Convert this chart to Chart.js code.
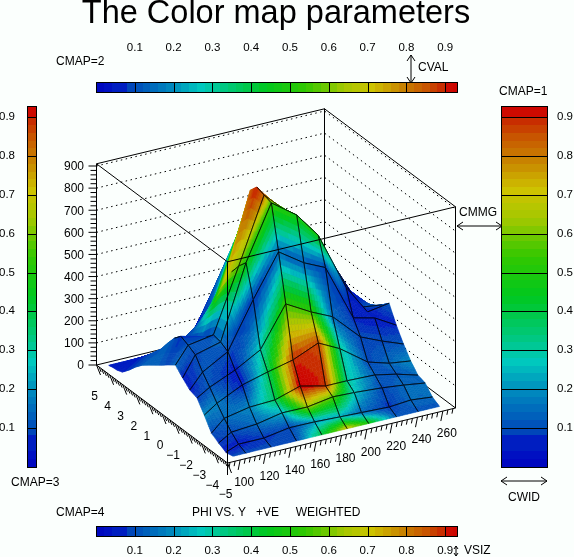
<!DOCTYPE html>
<html>
<head>
<meta charset="utf-8">
<title>The Color map parameters</title>
<script src="https://cdn.jsdelivr.net/npm/chart.js@4"></script>
<style>
html, body { margin: 0; padding: 0; background: #fbfffd; overflow: hidden; }
canvas { display: block; }
</style>
</head>
<body>
<canvas id="chart" width="574" height="557"></canvas>
<script>
// DATA
const xNodes = [97, 107, 127, 147, 167, 187, 204, 226, 243, 260];
const yNodes = [-4.75, -4.2, -3.65, -3.1, -2.55, -2.0, -1.45, -0.9, -0.35, 0.2, 0.7, 1.2, 1.7, 2.2, 2.7, 3.2, 3.7, 4.1, 4.45, 4.75];
// heights, one row per xNode
const surfaceZ = [
  [10, 3, 21, 41, 98, 151, 163, 193, 227, 203, 180, 158, 136, 113, 83, 47, 16, 7, 5, 0],
  [10, 26, 56, 94, 138, 186, 230, 284, 303, 319, 288, 244, 195, 159, 123, 87, 51, 29, 9, 0],
  [10, 26, 65, 117, 193, 236, 295, 314, 322, 288, 252, 231, 209, 177, 128, 87, 61, 42, 23, 0],
  [10, 45, 88, 122, 224, 300, 502, 645, 606, 555, 496, 429, 339, 258, 204, 137, 70, 29, 5, 0],
  [10, 44, 87, 157, 251, 480, 691, 888, 899, 911, 875, 740, 628, 538, 448, 358, 258, 168, 99, 27],
  [10, 39, 105, 130, 300, 416, 614, 806, 790, 770, 730, 630, 520, 410, 320, 230, 150, 84, 41, 0],
  [10, 35, 101, 130, 251, 371, 569, 691, 682, 640, 590, 520, 440, 350, 270, 200, 130, 74, 31, 0],
  [10, 30, 92, 126, 160, 249, 311, 425, 465, 370, 290, 220, 160, 110, 70, 40, 15, 0, 0, 0],
  [10, 38, 81, 106, 131, 207, 287, 290, 287, 317, 327, 341, 280, 230, 180, 130, 80, 54, 31, 0],
  [10, 28, 67, 78, 118, 170, 231, 306, 274, 236, 231, 200, 205, 180, 150, 110, 70, 44, 21, 0]
];
// colour map value at each surface node
const surfaceC = [
  [.10, .06, .08, .10, .20, .08, .05, .06, .15, .10, .12, .15, .15, .13, .10, .08, .06, .05, .05, .05],
  [.10, .05, .10, .15, .18, .12, .12, .10, .12, .08, .12, .15, .12, .12, .10, .08, .06, .05, .05, .05],
  [.10, .08, .15, .20, .05, .05, .10, .15, .12, .08, .10, .10, .10, .10, .08, .06, .05, .05, .05, .05],
  [.10, .10, .25, .38, .38, .30, .08, .50, .60, .65, .72, .50, .20, .10, .08, .06, .05, .05, .05, .05],
  [.42, .22, .65, .96, .90, .55, .15, .55, .85, .93, .85, .35, .40, .25, .15, .08, .05, .05, .05, .05],
  [.72, .25, .58, .90, .88, .55, .13, .50, .50, .50, .40, .30, .20, .10, .08, .06, .05, .05, .05, .05],
  [.50, .15, .28, .32, .32, .15, .10, .50, .30, .20, .15, .10, .08, .06, .05, .05, .05, .05, .05, .05],
  [.12, .08, .10, .13, .10, .10, .06, .05, .05, .05, .05, .05, .05, .05, .05, .05, .05, .05, .05, .05],
  [.12, .15, .15, .12, .15, .10, .05, .05, .10, .05, .05, .05, .05, .05, .05, .05, .05, .05, .05, .05],
  [.12, .15, .15, .15, .20, .12, .06, .12, .15, .12, .05, .05, .05, .05, .05, .05, .05, .05, .05, .05]
];
// how far back each column of the mesh is drawn
const meshColumnEnd = [0, 10, 10, 9, 9, 7, 7, 8, 6, 0];
const meshRowEnd = 8;

const zTicks = [0, 100, 200, 300, 400, 500, 600, 700, 800, 900];
const xTicks = [100, 120, 140, 160, 180, 200, 220, 240, 260];
const yTicks = [-5, -4, -3, -2, -1, 0, 1, 2, 3, 4, 5];
const cmapTicks = [0.1, 0.2, 0.3, 0.4, 0.5, 0.6, 0.7, 0.8, 0.9];

const cmapStops = [0, .05, .10, .20, .28, .35, .45, .55, .65, .72, .80, .86, .90, .92, .96];
const cmapColors = [
  [0, 0, 190], [0, 20, 195], [0, 70, 185], [0, 135, 190], [0, 200, 190], [0, 200, 120], [0, 200, 30],
  [50, 200, 0], [165, 200, 0], [205, 195, 0], [200, 130, 0], [200, 85, 0], [200, 45, 0], [205, 10, 0], [205, 0, 0]
];

// box limits
const X0 = 90, X1 = 270, Y0 = -5, Y1 = 5, ZTOP = 910;

// where the box sits on the page
function project(x, y, z) {
  return {
    x: 227.5 + (x - X0) * 228 / 180 + (y - Y0) * -13.1,
    y: 463 - (x - X0) * 55 / 180 + (y - Y0) * -9.8 - z * 0.2211
  };
}

function polyline(pts) {
  return pts.map(p => project(p[0], p[1], p[2]));
}

function joined(list) {
  let out = [];
  list.forEach(l => { out = out.concat(l); out.push({ x: null, y: null }); });
  return out;
}

function cmapColor(v) {
  const q = Math.min(0.96, Math.max(0, Math.round(v * 50) / 50));
  let i = 0;
  while (i < cmapStops.length - 2 && q > cmapStops[i + 1]) i++;
  const t = (q - cmapStops[i]) / (cmapStops[i + 1] - cmapStops[i]);
  const a = cmapColors[i], b = cmapColors[i + 1];
  return `rgb(${Math.round(a[0] + (b[0] - a[0]) * t)},${Math.round(a[1] + (b[1] - a[1]) * t)},${Math.round(a[2] + (b[2] - a[2]) * t)})`;
}

// dotted lines on the two back walls
const wallLines = zTicks.slice(1).map(z => polyline([[X0, Y1, z], [X1, Y1, z], [X1, Y0, z]]));

const backEdges = [
  polyline([[X0, Y1, 0], [X0, Y1, ZTOP], [X1, Y1, ZTOP], [X1, Y0, ZTOP], [X1, Y0, 0]]),
  polyline([[X1, Y1, ZTOP], [X1, Y1, 0]]),
  polyline([[X0, Y1, 0], [X1, Y1, 0], [X1, Y0, 0]])
];

const frontEdges = [
  polyline([[X0, Y1, ZTOP], [X0, Y0, ZTOP], [X1, Y0, ZTOP]]),
  polyline([[X0, Y0, ZTOP], [X0, Y0, 0]]).concat([{ x: project(X0, Y0, 0).x, y: project(X0, Y0, 0).y + 12 }]),
  polyline([[X0, Y1, 0], [X0, Y0, 0], [X1, Y0, 0]])
];

function buildTicks() {
  const out = [];
  for (let z = 0; z <= 900; z += 20) {
    const p = project(X0, Y1, z);
    out.push([p, { x: p.x - (z % 100 === 0 ? 8 : 6), y: p.y }]);
  }
  for (let x = 92; x <= 268; x += 4) {
    const p = project(x, Y0, 0);
    const major = x % 20 === 0;
    out.push([p, { x: p.x - (major ? 2 : 1), y: p.y + (major ? 10 : 5) }]);
  }
  for (let i = 0; i <= 50; i++) {
    const y = Y0 + i * 0.2;
    const p = project(X0, y, 0);
    const major = i % 5 === 0;
    out.push([p, { x: p.x + (major ? 4 : 2), y: p.y + (major ? 10 : 5) }]);
  }
  return out;
}

const lineDataset = (data, order, extra) => Object.assign({
  data, order, showLine: true, pointRadius: 0, borderColor: '#000', borderWidth: 1, tension: 0, spanGaps: false
}, extra || {});

const BACK_INDEX = 1;

const surfacePlugin = {
  id: 'surface',
  afterDatasetDraw(chart, args) {
    if (args.index !== BACK_INDEX) return;
    const ctx = chart.ctx, sx = chart.scales.x, sy = chart.scales.y;
    const px = (a, j) => {
      const p = project(xNodes[a], yNodes[j], surfaceZ[a][j]);
      return [sx.getPixelForValue(p.x), sy.getPixelForValue(p.y)];
    };
    const N = 8;
    const seg = (p, q) => { ctx.beginPath(); ctx.moveTo(p[0], p[1]); ctx.lineTo(q[0], q[1]); ctx.stroke(); };
    ctx.save();
    // far corner first, so that nearer cells cover it
    for (let a = xNodes.length - 2; a >= 0; a--) {
      for (let j = yNodes.length - 2; j >= 0; j--) {
        const p00 = px(a, j), p10 = px(a + 1, j), p01 = px(a, j + 1), p11 = px(a + 1, j + 1);
        const c00 = surfaceC[a][j], c10 = surfaceC[a + 1][j], c01 = surfaceC[a][j + 1], c11 = surfaceC[a + 1][j + 1];
        const lerp = (u, v) => [
          p00[0] * (1 - u) * (1 - v) + p10[0] * u * (1 - v) + p01[0] * (1 - u) * v + p11[0] * u * v,
          p00[1] * (1 - u) * (1 - v) + p10[1] * u * (1 - v) + p01[1] * (1 - u) * v + p11[1] * u * v
        ];
        ctx.lineWidth = 0.6;
        for (let m = N - 1; m >= 0; m--) {
          for (let n = N - 1; n >= 0; n--) {
            const u = m / N, v = n / N, d = 1 / N;
            const cu = u + d / 2, cv = v + d / 2;
            const c = c00 * (1 - cu) * (1 - cv) + c10 * cu * (1 - cv) + c01 * (1 - cu) * cv + c11 * cu * cv;
            const col = cmapColor(c);
            const q = [lerp(u, v), lerp(u + d, v), lerp(u + d, v + d), lerp(u, v + d)];
            ctx.beginPath();
            ctx.moveTo(q[0][0], q[0][1]);
            for (let k = 1; k < 4; k++) ctx.lineTo(q[k][0], q[k][1]);
            ctx.closePath();
            ctx.fillStyle = col;
            ctx.strokeStyle = col;
            ctx.fill();
            ctx.stroke();
          }
        }
        // mesh on the edges of this cell
        ctx.strokeStyle = '#000';
        ctx.lineWidth = 0.8;
        if (j >= 1 && j <= meshRowEnd) seg(p00, p10);
        if (j + 1 <= meshRowEnd) seg(p01, p11);
        if (a >= 1 && j < meshColumnEnd[a]) seg(p00, p01);
        if (j < meshColumnEnd[a + 1]) seg(p10, p11);
      }
    }
    ctx.restore();
  }
};

// colour bars and all the text
const annotationPlugin = {
  id: 'annotations',
  afterDatasetsDraw(chart) {
    const ctx = chart.ctx, sx = chart.scales.x, sy = chart.scales.y;
    const X = v => sx.getPixelForValue(v), Y = v => sy.getPixelForValue(v);
    const CMAP_TOP = 0.93, PER_UNIT = 388, BANDS = 47;

    function hbar(left, top, h) {
      const at = v => Math.round(X(left + v * PER_UNIT));
      for (let b = 0; b < BANDS; b++) {
        const v = b * 0.02, e = Math.min(v + 0.02, CMAP_TOP);
        ctx.fillStyle = cmapColor(v + 0.01);
        ctx.fillRect(at(v), Y(top), at(e) - at(v), h);
      }
      ctx.strokeStyle = '#000'; ctx.lineWidth = 1;
      ctx.strokeRect(at(0) + .5, Y(top) + .5, at(CMAP_TOP) - at(0), h);
      cmapTicks.forEach(v => {
        ctx.beginPath(); ctx.moveTo(at(v) + .5, Y(top)); ctx.lineTo(at(v) + .5, Y(top) + h); ctx.stroke();
      });
    }
    function vbar(left, w, bottom) {
      const at = v => Math.round(Y(bottom - v * PER_UNIT));
      for (let b = 0; b < BANDS; b++) {
        const v = b * 0.02, e = Math.min(v + 0.02, CMAP_TOP);
        ctx.fillStyle = cmapColor(v + 0.01);
        ctx.fillRect(X(left), at(e), w, at(v) - at(e));
      }
      ctx.strokeStyle = '#000'; ctx.lineWidth = 1;
      ctx.strokeRect(X(left) + .5, at(CMAP_TOP) + .5, w, at(0) - at(CMAP_TOP));
      cmapTicks.forEach(v => {
        ctx.beginPath(); ctx.moveTo(X(left), at(v) + .5); ctx.lineTo(X(left) + w, at(v) + .5); ctx.stroke();
      });
    }
    function arrow(x1, y1, x2, y2, L, W) {
      const dx = x2 - x1, dy = y2 - y1, len = Math.hypot(dx, dy), ux = dx / len, uy = dy / len;
      ctx.strokeStyle = '#000'; ctx.lineWidth = 1;
      ctx.beginPath();
      ctx.moveTo(X(x1), Y(y1)); ctx.lineTo(X(x2), Y(y2));
      [[x1, y1, 1], [x2, y2, -1]].forEach(e => {
        ctx.moveTo(X(e[0] + e[2] * ux * L - uy * W), Y(e[1] + e[2] * uy * L + ux * W));
        ctx.lineTo(X(e[0]), Y(e[1]));
        ctx.lineTo(X(e[0] + e[2] * ux * L + uy * W), Y(e[1] + e[2] * uy * L - ux * W));
      });
      ctx.stroke();
    }
    function text(s, x, y, align, size) {
      ctx.font = (size || 12) + 'px "Liberation Sans", Arial, sans-serif';
      ctx.textAlign = align || 'left';
      ctx.textBaseline = 'middle';
      ctx.fillStyle = '#000';
      ctx.fillText(s, X(x), Y(y));
    }

    hbar(96, 82, 10);
    hbar(96, 526, 10);
    vbar(27, 9, 466.5);
    vbar(501, 46, 466.5);

    cmapTicks.forEach(v => {
      const lx = 96 + v * PER_UNIT;
      text(v.toFixed(1), lx, 47.5, 'center', 11.5);
      text(v.toFixed(1), lx, 551, 'center', 11.5);
      const ly = 466.5 - v * PER_UNIT;
      text(v.toFixed(1), 15, ly, 'right', 11.5);
      text(v.toFixed(1), 557, ly, 'left', 11.5);
    });

    zTicks.forEach(z => {
      const p = project(X0, Y1, z);
      text(String(z), 84, p.y + 1, 'right', 12);
    });
    xTicks.forEach(x => {
      const p = project(x, Y0, 0);
      text(String(x), p.x + 4, p.y + 23, 'center', 12);
    });
    yTicks.forEach(y => {
      const p = project(X0, y, 0);
      text(String(y).replace('-', '\u2212'), p.x - 2, p.y + 32, 'center', 12);
    });

    text('The Color map parameters', 276, 14, 'center', 32.5);
    text('CMAP=2', 56, 62, 'left', 12);
    text('CMAP=1', 499, 92, 'left', 12);
    text('CMAP=3', 11, 483, 'left', 12);
    text('CMAP=4', 56, 513, 'left', 12);
    text('PHI VS. Y   +VE     WEIGHTED', 192, 513, 'left', 12);
    text('CVAL', 418, 68, 'left', 12);
    text('CMMG', 459, 213, 'left', 12);
    text('CWID', 524, 498, 'center', 12);
    text('VSIZ', 464, 551, 'left', 12);

    arrow(411, 55, 411, 83, 6, 4);
    arrow(457, 226, 502, 226, 6, 4);
    arrow(501, 481, 547, 481, 6, 4);
    arrow(456, 546, 456, 556, 3, 2);
  }
};

new Chart(document.getElementById('chart').getContext('2d'), {
  type: 'scatter',
  data: {
    datasets: [
      lineDataset(joined(wallLines), 5, { borderDash: [1.5, 3.5] }),
      lineDataset(joined(backEdges), 4),
      lineDataset(joined(frontEdges), 1),
      lineDataset(joined(buildTicks()), 1)
    ]
  },
  options: {
    responsive: false,
    animation: false,
    layout: { padding: 0 },
    plugins: { legend: { display: false }, tooltip: { enabled: false }, title: { display: false } },
    scales: {
      x: { type: 'linear', min: 0, max: 574, display: false },
      y: { type: 'linear', min: 0, max: 557, reverse: true, display: false }
    }
  },
  plugins: [surfacePlugin, annotationPlugin]
});
</script>
</body>
</html>
